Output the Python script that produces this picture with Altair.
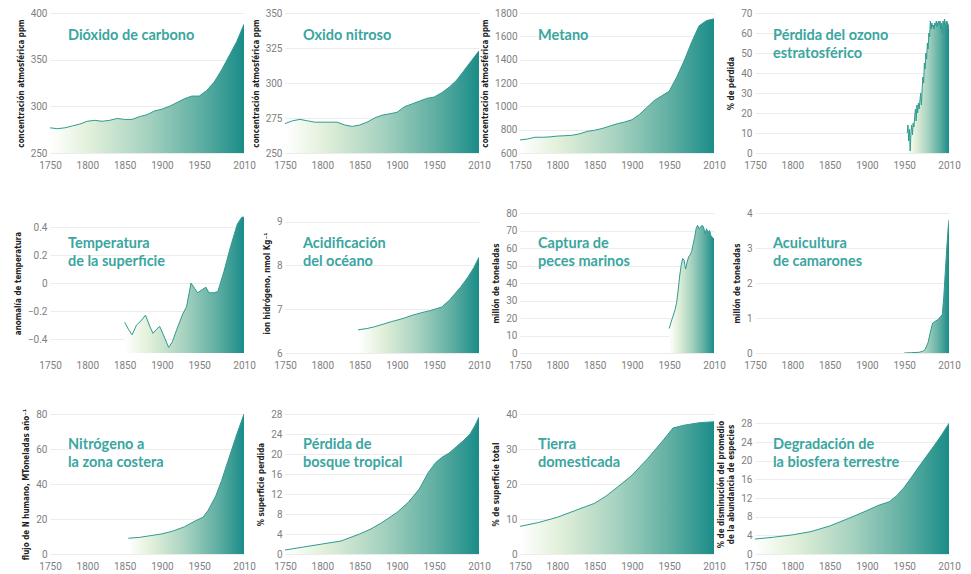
import altair as alt
import pandas as pd

# ---------------- data ----------------
co2_years = [1750, 1760, 1770, 1780, 1790, 1800, 1810, 1820, 1830, 1840, 1850, 1860, 1870, 1880,
             1890, 1900, 1910, 1920, 1930, 1940, 1950, 1960, 1970, 1980, 1990, 2000, 2010]
co2_vals = [277, 276, 277, 279, 281, 284, 285, 284, 285, 287, 286, 286, 289, 291,
            295, 297, 300, 304, 308, 311, 311, 317, 326, 339, 354, 369, 388]

n2o_years = co2_years
n2o_vals = [271, 273, 274, 273, 272, 272, 272, 272, 270, 269, 270, 272, 275, 277,
            278, 279, 283, 285, 287, 289, 290, 293, 297, 302, 309, 316, 323]

ch4_years = co2_years
ch4_vals = [712, 720, 735, 735, 738, 745, 748, 752, 765, 785, 795, 810, 830, 850,
            865, 885, 930, 990, 1050, 1090, 1130, 1250, 1390, 1550, 1690, 1735, 1750]

ozone_years = list(range(1954, 2011))
ozone_vals = [10, 14, 6, 12, 1, 10, 14, 9, 15, 13, 18, 22, 16, 24, 20, 25, 22, 26, 30, 24,
              32, 38, 35, 45, 42, 50, 47, 55, 52, 60, 58, 66, 62, 65, 63, 64, 62, 65, 64, 66,
              63, 65, 66, 64, 66, 62, 65, 60, 66, 64, 67, 65, 63, 66, 65, 64, 62]

temp_years = [1850, 1855, 1860, 1866, 1872, 1878, 1883, 1888, 1893, 1897, 1902, 1909, 1914,
              1920, 1928, 1933, 1939, 1944, 1948, 1953, 1959, 1963, 1970, 1975, 1983, 1992,
              2001, 2007, 2010]
temp_vals = [-0.28, -0.33, -0.37, -0.30, -0.27, -0.23, -0.30, -0.36, -0.33, -0.31, -0.37,
             -0.46, -0.42, -0.33, -0.22, -0.17, 0.0, -0.04, -0.07, -0.05, -0.03, -0.07, -0.07,
             -0.06, 0.08, 0.26, 0.42, 0.47, 0.47]

ocean_years = [1848, 1860, 1870, 1880, 1893, 1900, 1910, 1920, 1937, 1945, 1960, 1970, 1978,
               1985, 1995, 2003, 2010]
ocean_vals = [6.53, 6.56, 6.6, 6.65, 6.72, 6.75, 6.8, 6.86, 6.94, 6.97, 7.05, 7.2, 7.36,
              7.5, 7.73, 7.95, 8.19]

fish_years = [1950, 1952, 1955, 1958, 1960, 1962, 1964, 1966, 1968, 1970, 1971, 1972, 1974,
              1976, 1978, 1980, 1982, 1984, 1986, 1988, 1990, 1992, 1994, 1996, 1998, 2000,
              2002, 2004, 2006, 2008, 2010]
fish_vals = [14, 17, 21, 25, 29, 36, 44, 50, 54, 53, 50, 48, 52, 55, 56, 58, 62, 66, 71, 73,
             71, 72, 73, 72, 68, 71, 69, 70, 67, 66, 65]

shrimp_years = [1950, 1960, 1970, 1975, 1978, 1982, 1985, 1988, 1991, 1995, 1999, 2001, 2003,
                2005, 2007, 2009, 2010]
shrimp_vals = [0.0, 0.01, 0.02, 0.05, 0.1, 0.3, 0.6, 0.85, 0.9, 0.95, 1.05, 1.1, 1.6, 2.3,
               3.0, 3.6, 3.8]

nitro_years = [1855, 1870, 1885, 1900, 1914, 1930, 1945, 1955, 1962, 1972, 1980, 1990, 2000, 2010]
nitro_vals = [9, 9.5, 10.5, 11.5, 13, 15.5, 19, 21, 25, 33, 42, 55, 68, 80]

forest_years = [1750, 1775, 1800, 1825, 1850, 1865, 1880, 1900, 1915, 1930, 1942, 1952, 1960,
                1970, 1980, 1990, 1998, 2005, 2010]
forest_vals = [0.8, 1.4, 2.0, 2.6, 4.0, 5.0, 6.3, 8.3, 10.3, 13, 16.3, 18.3, 19.3, 20.2, 21.5,
               22.8, 24, 25.8, 27.4]

land_years = [1750, 1775, 1800, 1825, 1850, 1865, 1880, 1900, 1920, 1940, 1955, 1970, 1990, 2010]
land_vals = [7.9, 9, 10.5, 12.5, 14.5, 16.5, 19, 22.5, 27, 32, 36, 36.8, 37.5, 37.8]

bio_years = [1750, 1775, 1800, 1825, 1850, 1875, 1900, 1915, 1930, 1940, 1950, 1960, 1970,
             1980, 1990, 2000, 2010]
bio_vals = [3.2, 3.6, 4.1, 4.8, 6.0, 7.6, 9.3, 10.4, 11.2, 12.5, 14.3, 16.5, 18.8, 21, 23.2,
            25.5, 28]

x_ticks = [1750, 1800, 1850, 1900, 1950, 2010]

titles = [
    ["Dióxido de carbono"], ["Oxido nitroso"], ["Metano"],
    ["Pérdida del ozono", "estratosférico"],
    ["Temperatura", "de la superficie"], ["Acidificación", "del océano"],
    ["Captura de", "peces marinos"], ["Acuicultura", "de camarones"],
    ["Nitrógeno a", "la zona costera"], ["Pérdida de", "bosque tropical"],
    ["Tierra", "domesticada"], ["Degradación de", "la biosfera terrestre"],
]
y_titles = [
    "concentración atmosférica ppm", "concentración atmosférica ppm",
    "concentración atmosférica ppm", "% de pérdida",
    "anomalía de temperatura", "ion hidrógeno, nmol Kg⁻¹",
    "millón de toneladas", "millón de toneladas",
    "flujo de N humano, MToneladas año⁻¹", "% superficie perdida",
    "% de superficie total", ["% de disminución del promedio", "de la abundancia de especies"],
]
y_domains = [[250, 400], [250, 350], [600, 1800], [0, 70],
             [-0.5, 0.5], [6, 9.2], [0, 80], [0, 4],
             [0, 80], [0, 28], [0, 40], [0, 30]]
y_ticks = [[250, 300, 350, 400], [250, 275, 300, 325, 350],
           [600, 800, 1000, 1200, 1400, 1600, 1800], [0, 10, 20, 30, 40, 50, 60, 70],
           [-0.4, -0.2, 0, 0.2, 0.4], [6, 7, 8, 9], [0, 10, 20, 30, 40, 50, 60, 70, 80],
           [0, 1, 2, 3, 4],
           [0, 20, 40, 60, 80], [0, 4, 8, 12, 16, 20, 24, 28], [0, 10, 20, 30, 40],
           [0, 4, 8, 12, 16, 20, 24, 28]]
series = [(co2_years, co2_vals), (n2o_years, n2o_vals), (ch4_years, ch4_vals),
          (ozone_years, ozone_vals), (temp_years, temp_vals), (ocean_years, ocean_vals),
          (fish_years, fish_vals), (shrimp_years, shrimp_vals), (nitro_years, nitro_vals),
          (forest_years, forest_vals), (land_years, land_vals), (bio_years, bio_vals)]

# ---------------- style ----------------
TEAL_TITLE = "#3aa69f"
LINE_COLOR = "#2f9a91"
gradient = alt.Gradient(
    gradient="linear",
    stops=[alt.GradientStop(color="#ffffff", offset=0),
           alt.GradientStop(color="#e2f0da", offset=0.2),
           alt.GradientStop(color="#a6d2c0", offset=0.5),
           alt.GradientStop(color="#5eaea2", offset=0.78),
           alt.GradientStop(color="#1a8c88", offset=1)],
    x1=0, x2=1, y1=0, y2=0)

W, H = 194, 140


def panel(i, title_y):
    years, vals = series[i]
    dom = y_domains[i]
    df = pd.DataFrame({"year": years, "value": vals})
    df["base"] = dom[0]
    x = alt.X("year:Q", scale=alt.Scale(domain=[1750, 2010], nice=False, zero=False),
              axis=alt.Axis(values=x_ticks, format="d", title=None, grid=False,
                            labelOverlap=False, labelBound=False, labelFlush=False))
    y = alt.Y("value:Q", scale=alt.Scale(domain=dom, nice=False, zero=False),
              axis=alt.Axis(values=y_ticks[i], format=".6~r", title=y_titles[i],
                            labelOverlap=False, labelBound=False, labelFlush=False))
    area = alt.Chart(df).mark_area(color=gradient, clip=True).encode(x=x, y=y, y2="base:Q")
    line = alt.Chart(df).mark_line(color=LINE_COLOR, strokeWidth=1.0, clip=True).encode(
        x=x, y=y)
    txt = alt.Chart(pd.DataFrame({"k": [0]})).mark_text(
        text=titles[i], align="left", baseline="middle", font="Lato", fontWeight="bold",
        fontSize=14.5, color=TEAL_TITLE, lineHeight=18
    ).encode(x=alt.value(18), y=alt.value(title_y))
    return alt.layer(area, line, txt).properties(width=W, height=H)


rows = []
for r in range(3):
    ty = 23 if r == 0 else 31
    rows.append(alt.hconcat(*[panel(r * 4 + c, ty) for c in range(4)], spacing=41,
                            bounds="flush"))

chart = alt.vconcat(*rows, spacing=38).configure_view(
    stroke=None
).configure_axis(
    domain=False, ticks=False, labelFont="Roboto", labelFontSize=10, labelColor="#808080",
    titleFont="DejaVu Sans Condensed", titleFontSize=8, titleFontWeight="bold",
    titleColor="#222222", gridColor="#ececec", gridWidth=1, labelOverlap=False
).configure_axisY(
    labelPadding=3, titlePadding=5
).configure_axisX(
    labelPadding=7
).properties(padding={"left": 6, "top": 0, "right": 2, "bottom": 0})

chart.save("out.html", embed_options={"renderer": "svg", "actions": False})
